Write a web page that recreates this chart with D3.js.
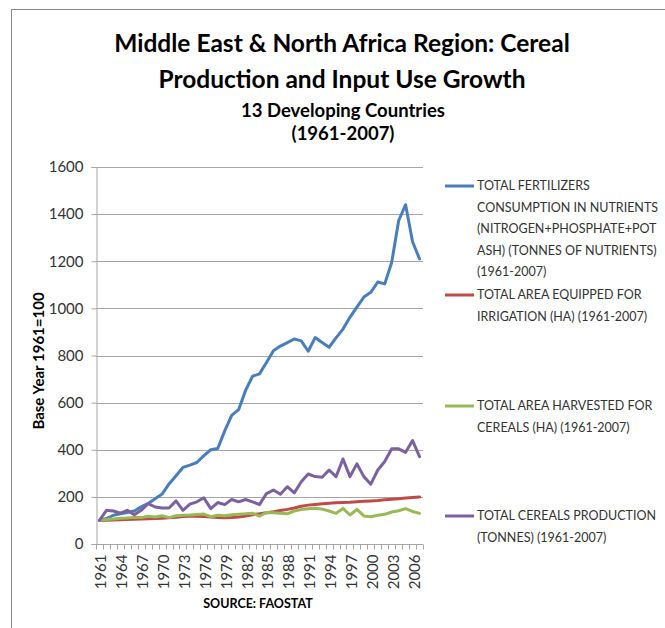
<!DOCTYPE html>
<html><head><meta charset="utf-8">
<script src="https://cdn.jsdelivr.net/npm/d3@7/dist/d3.min.js"></script>
<style>
body{margin:0;background:#fff;}
svg{display:block;}
text{font-family:Lato,"Open Sans",sans-serif;}
</style>
</head><body>
<svg id="chart" width="665" height="628"></svg>
<script>
const years = [1961,1962,1963,1964,1965,1966,1967,1968,1969,1970,1971,1972,1973,1974,1975,1976,1977,1978,1979,1980,1981,1982,1983,1984,1985,1986,1987,1988,1989,1990,1991,1992,1993,1994,1995,1996,1997,1998,1999,2000,2001,2002,2003,2004,2005,2006,2007];
const fertilizers = [100,108,122,128,134,140,158,172,192,212,255,290,325,335,346,375,400,405,480,546,570,652,712,722,770,820,840,855,870,862,818,876,855,835,875,912,962,1005,1048,1068,1112,1104,1195,1372,1440,1283,1210];
const irrigation = [100,101,102,103,104,105,106,107,108,109,111,114,117,118,118,117,115,112,111,112,115,119,124,128,133,137,142,147,153,160,165,168,171,173,175,176,177,179,181,183,185,188,190,192,195,197,199];
const harvested = [100,104,106,109,110,113,112,118,115,120,112,120,122,123,125,127,116,122,120,124,126,128,131,118,134,133,131,128,140,146,150,152,148,140,130,151,123,147,119,116,122,126,136,141,150,138,130];
const production = [100,143,140,131,143,124,143,171,157,153,153,183,143,169,179,196,150,176,167,189,179,189,179,167,214,229,211,243,217,264,297,286,283,314,286,361,286,340,286,254,314,350,404,404,389,439,371];
const yTicks = [0,200,400,600,800,1000,1200,1400,1600];
const xTickLabels = [1961,1964,1967,1970,1973,1976,1979,1982,1985,1988,1991,1994,1997,2000,2003,2006];
const seriesNames = [
  ["TOTAL FERTILIZERS","CONSUMPTION IN NUTRIENTS","(NITROGEN+PHOSPHATE+POT","ASH) (TONNES OF NUTRIENTS)","(1961-2007)"],
  ["TOTAL AREA EQUIPPED FOR","IRRIGATION (HA) (1961-2007)"],
  ["TOTAL AREA HARVESTED FOR","CEREALS (HA) (1961-2007)"],
  ["TOTAL CEREALS PRODUCTION","(TONNES) (1961-2007)"]
];
const seriesColors = ["#4a7ebb","#be4b48","#98b954","#7d60a0"];
const titleLines = ["Middle East & North Africa Region: Cereal","Production and Input Use Growth"];
const subtitleLines = ["13 Developing Countries","(1961-2007)"];
const yTitle = "Base Year 1961=100";
const sourceText = "SOURCE: FAOSTAT";

const series = [fertilizers, irrigation, harvested, production];
const svg = d3.select("#chart");

// outer frame
svg.append("rect").attr("x",11.5).attr("y",9.5).attr("width",700).attr("height",700)
  .attr("fill","none").attr("stroke","#888").attr("stroke-width",1);

const x = d3.scaleBand().domain(years).range([96,423]).paddingInner(0).paddingOuter(0);
const y = d3.scaleLinear().domain([0,1600]).range([544,167]);

// titles
svg.selectAll("text.title").data(titleLines).join("text").attr("class","title")
  .attr("x",342).attr("y",(d,i)=>52+i*36).attr("text-anchor","middle")
  .attr("font-size",24.5).attr("font-weight","bold").attr("fill","#000").text(d=>d);
svg.selectAll("text.sub").data(subtitleLines).join("text").attr("class","sub")
  .attr("x",343).attr("y",(d,i)=>117+i*23).attr("text-anchor","middle")
  .attr("font-size",18.5).attr("font-weight","bold").attr("fill","#000").text(d=>d);

// grid
svg.append("g").selectAll("line").data(yTicks.filter(d=>d>0)).join("line")
  .attr("x1",96).attr("x2",423).attr("y1",d=>Math.round(y(d))+0.5).attr("y2",d=>Math.round(y(d))+0.5)
  .attr("stroke","#a6a6a6").attr("stroke-width",1);

// y axis
const yAxis = svg.append("g").attr("transform","translate(96.5,0)")
  .call(d3.axisLeft(y).tickValues(yTicks).tickFormat(d3.format("d")).tickSize(5).tickPadding(8));
yAxis.select(".domain").attr("stroke","#a6a6a6");
yAxis.selectAll(".tick line").attr("stroke","#a6a6a6");
yAxis.selectAll("text").attr("font-size",15).attr("fill","#333").style("font-family","Lato,'Open Sans',sans-serif");

// x axis
const xb = d3.scaleLinear().domain([0,years.length]).range([96,423]);
const xAxisG = svg.append("g").attr("transform","translate(0,544.5)");
xAxisG.append("line").attr("x1",96).attr("x2",423).attr("stroke","#a6a6a6");
xAxisG.selectAll("line.tk").data(d3.range(years.length+1)).join("line").attr("class","tk")
  .attr("x1",d=>Math.round(xb(d))+0.5).attr("x2",d=>Math.round(xb(d))+0.5).attr("y1",0).attr("y2",5)
  .attr("stroke","#a6a6a6");
xAxisG.selectAll("text").data(xTickLabels).join("text")
  .attr("transform",d=>`translate(${x(d)+x.bandwidth()/2+7},10) rotate(-90)`)
  .attr("text-anchor","end").attr("font-size",15).attr("fill","#333").text(d=>d);

// y title
svg.append("text").attr("transform","translate(44,361) rotate(-90)").attr("text-anchor","middle")
  .attr("font-size",15).attr("font-weight","bold").attr("fill","#000").text(yTitle);

// source
svg.append("text").attr("x",258).attr("y",608).attr("text-anchor","middle")
  .attr("font-size",12.5).attr("font-weight","bold").attr("fill","#000").text(sourceText);

// lines
const line = d3.line().x((d,i)=>x(years[i])+x.bandwidth()/2).y(d=>y(d));
svg.append("g").selectAll("path").data(series).join("path")
  .attr("d",d=>line(d)).attr("fill","none").attr("stroke",(d,i)=>seriesColors[i])
  .attr("stroke-width",3).attr("stroke-linejoin","round").attr("stroke-linecap","round");

// legend
const legendY = [186,295,406,516];
const lg = svg.append("g");
seriesNames.forEach((lines,i)=>{
  lg.append("line").attr("x1",445).attr("x2",474).attr("y1",legendY[i]).attr("y2",legendY[i])
    .attr("stroke",seriesColors[i]).attr("stroke-width",3);
  lg.append("g").selectAll("text").data(lines).join("text")
    .attr("x",477).attr("y",(d,j)=>legendY[i]+j*21.5).attr("dy","0.35em")
    .attr("font-size",12.5).attr("fill","#333").text(d=>d);
});
</script>
</body></html>
